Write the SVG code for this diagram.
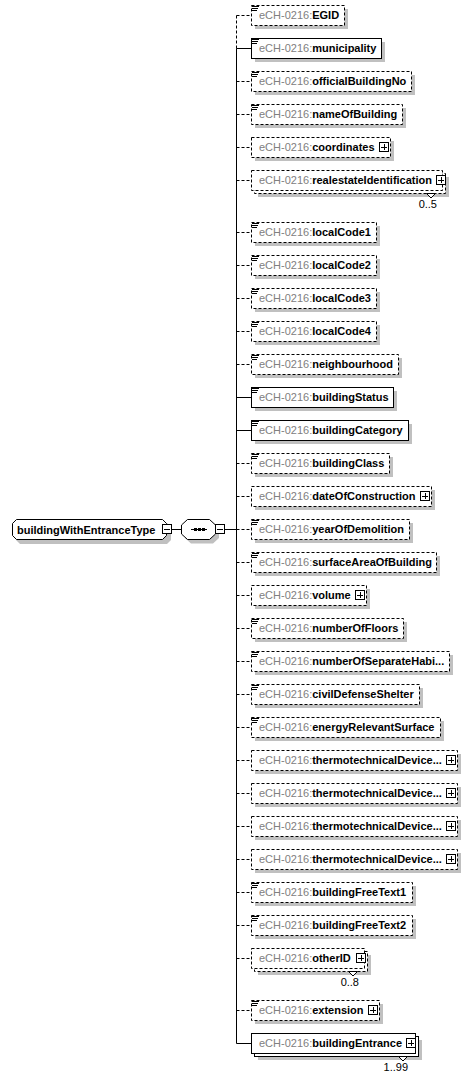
<svg xmlns="http://www.w3.org/2000/svg" xmlns:xlink="http://www.w3.org/1999/xlink" width="466" height="1078" viewBox="0 0 466 1078">
<style>
text{font-family:"Liberation Sans",Arial,sans-serif;font-size:11px}
.p{fill:#808080}
.n{fill:#000;font-weight:bold}
.c{fill:#000}
.sh{fill:#c0c0c0;stroke:none}
.b{fill:#fff;stroke:#000;stroke-width:1}
.o{stroke-dasharray:3,2}
.ln{stroke:#000;stroke-width:1;fill:none}
.dl{stroke:#000;stroke-width:1;fill:none;stroke-dasharray:3,2}
</style>
<defs>
<g id="plus"><rect x="0.5" y="0.5" width="9" height="9" fill="#fff" stroke="#000"/><path d="M2 5.5h6M5.5 2v6" stroke="#000"/></g>
<g id="minus"><rect x="0.5" y="0.5" width="9" height="9" fill="#fff" stroke="#000"/><path d="M2 5.5h6" stroke="#000"/></g>
<g id="doc"><path d="M1 1.5h7M1 3.5h6M1 5.5h5" stroke="#000" fill="none"/></g>
</defs>

<g id="connectors">
<path class="dl" d="M236.5 15.5V48.5"/>
<path class="ln" d="M236.5 48.5V1043.5"/>
<path class="ln" d="M171.5 529.5H181.5M224.5 529.5H236.5"/>
<path class="dl" d="M236.5 15.5H251"/>
<path class="ln" d="M236.5 48.5H251"/>
<path class="dl" d="M236.5 81.5H251M236.5 114.5H251M236.5 147.5H251M236.5 180.5H251M236.5 232.5H251M236.5 265.5H251M236.5 298.5H251M236.5 331.5H251M236.5 364.5H251"/>
<path class="ln" d="M236.5 397.5H251M236.5 430.5H251"/>
<path class="dl" d="M236.5 463.5H251M236.5 496.5H251M236.5 529.5H251M236.5 562.5H251M236.5 595.5H251M236.5 628.5H251M236.5 661.5H251M236.5 694.5H251M236.5 727.5H251M236.5 760.5H251M236.5 793.5H251M236.5 826.5H251M236.5 859.5H251M236.5 892.5H251M236.5 925.5H251M236.5 958.5H251M236.5 1010.5H251"/>
<path class="ln" d="M236.5 1043.5H251"/>
</g>

<g id="root">
<polygon class="sh" points="20,523 167,523 171,527 171,540 167,544 20,544 16,540 16,527"/>
<polygon class="b" points="16.5,519.5 162.5,519.5 166.5,523.5 166.5,535.5 162.5,539.5 16.5,539.5 12.5,535.5 12.5,523.5"/>
<text x="17" y="533.5" class="n">buildingWithEntranceType</text>
<use xlink:href="#minus" x="162" y="524"/>
</g>

<g id="sequence">
<polygon class="sh" points="191,523 213,523 219,528.5 219,538 213,543.5 191,543.5 185,538 185,528.5"/>
<polygon class="b" points="187.5,519.5 209.5,519.5 215.5,525 215.5,534 209.5,539.5 187.5,539.5 181.5,534 181.5,525"/>
<path class="ln" d="M191 529.5H207"/>
<rect x="194" y="528" width="3" height="3" fill="#000"/>
<rect x="198" y="528" width="3" height="3" fill="#000"/>
<rect x="202" y="528" width="3" height="3" fill="#000"/>
<use xlink:href="#minus" x="215" y="524"/>
</g>

<g id="EGID">
<rect class="sh" x="255" y="9" width="93" height="20"/>
<rect class="b o" x="251.5" y="5.5" width="93" height="20"/>
<use xlink:href="#doc" x="251" y="5"/>
<text x="259" y="19"><tspan class="p">eCH-0216:</tspan><tspan class="n">EGID</tspan></text>
</g>
<g id="municipality">
<rect class="sh" x="255" y="42" width="130" height="20"/>
<rect class="b" x="251.5" y="38.5" width="130" height="20"/>
<use xlink:href="#doc" x="251" y="38"/>
<text x="259" y="52"><tspan class="p">eCH-0216:</tspan><tspan class="n">municipality</tspan></text>
</g>
<g id="officialBuildingNo">
<rect class="sh" x="255" y="75" width="160" height="20"/>
<rect class="b o" x="251.5" y="71.5" width="160" height="20"/>
<use xlink:href="#doc" x="251" y="71"/>
<text x="259" y="85"><tspan class="p">eCH-0216:</tspan><tspan class="n">officialBuildingNo</tspan></text>
</g>
<g id="nameOfBuilding">
<rect class="sh" x="255" y="108" width="151" height="20"/>
<rect class="b o" x="251.5" y="104.5" width="151" height="20"/>
<use xlink:href="#doc" x="251" y="104"/>
<text x="259" y="118"><tspan class="p">eCH-0216:</tspan><tspan class="n">nameOfBuilding</tspan></text>
</g>
<g id="coordinates">
<rect class="sh" x="255" y="141" width="139" height="20"/>
<rect class="b o" x="251.5" y="137.5" width="139" height="20"/>
<text x="259" y="151"><tspan class="p">eCH-0216:</tspan><tspan class="n">coordinates</tspan></text>
<use xlink:href="#plus" x="379" y="142"/>
</g>
<g id="realestateIdentification">
<rect class="sh" x="258" y="177" width="191" height="20"/>
<rect class="b o" x="254.5" y="173.5" width="191" height="20"/>
<rect class="b o" x="251.5" y="170.5" width="191" height="20"/>
<text x="259" y="184"><tspan class="p">eCH-0216:</tspan><tspan class="n">realestateIdentification</tspan></text>
<use xlink:href="#plus" x="436" y="175"/>
<polygon class="b" points="426.5,193.5 431,198 435.5,193.5"/>
<text x="437" y="208" class="c" text-anchor="end">0..5</text>
</g>
<g id="localCode1">
<rect class="sh" x="255" y="226" width="125" height="20"/>
<rect class="b o" x="251.5" y="222.5" width="125" height="20"/>
<use xlink:href="#doc" x="251" y="222"/>
<text x="259" y="236"><tspan class="p">eCH-0216:</tspan><tspan class="n">localCode1</tspan></text>
</g>
<g id="localCode2">
<rect class="sh" x="255" y="259" width="125" height="20"/>
<rect class="b o" x="251.5" y="255.5" width="125" height="20"/>
<use xlink:href="#doc" x="251" y="255"/>
<text x="259" y="269"><tspan class="p">eCH-0216:</tspan><tspan class="n">localCode2</tspan></text>
</g>
<g id="localCode3">
<rect class="sh" x="255" y="292" width="125" height="20"/>
<rect class="b o" x="251.5" y="288.5" width="125" height="20"/>
<use xlink:href="#doc" x="251" y="288"/>
<text x="259" y="302"><tspan class="p">eCH-0216:</tspan><tspan class="n">localCode3</tspan></text>
</g>
<g id="localCode4">
<rect class="sh" x="255" y="325" width="125" height="20"/>
<rect class="b o" x="251.5" y="321.5" width="125" height="20"/>
<use xlink:href="#doc" x="251" y="321"/>
<text x="259" y="335"><tspan class="p">eCH-0216:</tspan><tspan class="n">localCode4</tspan></text>
</g>
<g id="neighbourhood">
<rect class="sh" x="255" y="358" width="147" height="20"/>
<rect class="b o" x="251.5" y="354.5" width="147" height="20"/>
<use xlink:href="#doc" x="251" y="354"/>
<text x="259" y="368"><tspan class="p">eCH-0216:</tspan><tspan class="n">neighbourhood</tspan></text>
</g>
<g id="buildingStatus">
<rect class="sh" x="255" y="391" width="142" height="20"/>
<rect class="b" x="251.5" y="387.5" width="142" height="20"/>
<use xlink:href="#doc" x="251" y="387"/>
<text x="259" y="401"><tspan class="p">eCH-0216:</tspan><tspan class="n">buildingStatus</tspan></text>
</g>
<g id="buildingCategory">
<rect class="sh" x="255" y="424" width="157" height="20"/>
<rect class="b" x="251.5" y="420.5" width="157" height="20"/>
<use xlink:href="#doc" x="251" y="420"/>
<text x="259" y="434"><tspan class="p">eCH-0216:</tspan><tspan class="n">buildingCategory</tspan></text>
</g>
<g id="buildingClass">
<rect class="sh" x="255" y="457" width="138" height="20"/>
<rect class="b o" x="251.5" y="453.5" width="138" height="20"/>
<use xlink:href="#doc" x="251" y="453"/>
<text x="259" y="467"><tspan class="p">eCH-0216:</tspan><tspan class="n">buildingClass</tspan></text>
</g>
<g id="dateOfConstruction">
<rect class="sh" x="255" y="490" width="180" height="20"/>
<rect class="b o" x="251.5" y="486.5" width="180" height="20"/>
<text x="259" y="500"><tspan class="p">eCH-0216:</tspan><tspan class="n">dateOfConstruction</tspan></text>
<use xlink:href="#plus" x="420" y="491"/>
</g>
<g id="yearOfDemolition">
<rect class="sh" x="255" y="523" width="158" height="20"/>
<rect class="b o" x="251.5" y="519.5" width="158" height="20"/>
<use xlink:href="#doc" x="251" y="519"/>
<text x="259" y="533"><tspan class="p">eCH-0216:</tspan><tspan class="n">yearOfDemolition</tspan></text>
</g>
<g id="surfaceAreaOfBuilding">
<rect class="sh" x="255" y="556" width="185" height="20"/>
<rect class="b o" x="251.5" y="552.5" width="185" height="20"/>
<use xlink:href="#doc" x="251" y="552"/>
<text x="259" y="566"><tspan class="p">eCH-0216:</tspan><tspan class="n">surfaceAreaOfBuilding</tspan></text>
</g>
<g id="volume">
<rect class="sh" x="255" y="589" width="115" height="20"/>
<rect class="b o" x="251.5" y="585.5" width="115" height="20"/>
<text x="259" y="599"><tspan class="p">eCH-0216:</tspan><tspan class="n">volume</tspan></text>
<use xlink:href="#plus" x="355" y="590"/>
</g>
<g id="numberOfFloors">
<rect class="sh" x="255" y="622" width="152" height="20"/>
<rect class="b o" x="251.5" y="618.5" width="152" height="20"/>
<use xlink:href="#doc" x="251" y="618"/>
<text x="259" y="632"><tspan class="p">eCH-0216:</tspan><tspan class="n">numberOfFloors</tspan></text>
</g>
<g id="numberOfSeparateHabitation">
<rect class="sh" x="255" y="655" width="198" height="20"/>
<rect class="b o" x="251.5" y="651.5" width="198" height="20"/>
<use xlink:href="#doc" x="251" y="651"/>
<text x="259" y="665"><tspan class="p">eCH-0216:</tspan><tspan class="n">numberOfSeparateHabi...</tspan></text>
</g>
<g id="civilDefenseShelter">
<rect class="sh" x="255" y="688" width="168" height="20"/>
<rect class="b o" x="251.5" y="684.5" width="168" height="20"/>
<use xlink:href="#doc" x="251" y="684"/>
<text x="259" y="698"><tspan class="p">eCH-0216:</tspan><tspan class="n">civilDefenseShelter</tspan></text>
</g>
<g id="energyRelevantSurface">
<rect class="sh" x="255" y="721" width="189" height="20"/>
<rect class="b o" x="251.5" y="717.5" width="189" height="20"/>
<use xlink:href="#doc" x="251" y="717"/>
<text x="259" y="731"><tspan class="p">eCH-0216:</tspan><tspan class="n">energyRelevantSurface</tspan></text>
</g>
<g id="thermotechnicalDevice1">
<rect class="sh" x="255" y="754" width="206" height="20"/>
<rect class="b o" x="251.5" y="750.5" width="206" height="20"/>
<text x="259" y="764"><tspan class="p">eCH-0216:</tspan><tspan class="n">thermotechnicalDevice...</tspan></text>
<use xlink:href="#plus" x="446" y="755"/>
</g>
<g id="thermotechnicalDevice2">
<rect class="sh" x="255" y="787" width="206" height="20"/>
<rect class="b o" x="251.5" y="783.5" width="206" height="20"/>
<text x="259" y="797"><tspan class="p">eCH-0216:</tspan><tspan class="n">thermotechnicalDevice...</tspan></text>
<use xlink:href="#plus" x="446" y="788"/>
</g>
<g id="thermotechnicalDevice3">
<rect class="sh" x="255" y="820" width="206" height="20"/>
<rect class="b o" x="251.5" y="816.5" width="206" height="20"/>
<text x="259" y="830"><tspan class="p">eCH-0216:</tspan><tspan class="n">thermotechnicalDevice...</tspan></text>
<use xlink:href="#plus" x="446" y="821"/>
</g>
<g id="thermotechnicalDevice4">
<rect class="sh" x="255" y="853" width="206" height="20"/>
<rect class="b o" x="251.5" y="849.5" width="206" height="20"/>
<text x="259" y="863"><tspan class="p">eCH-0216:</tspan><tspan class="n">thermotechnicalDevice...</tspan></text>
<use xlink:href="#plus" x="446" y="854"/>
</g>
<g id="buildingFreeText1">
<rect class="sh" x="255" y="886" width="161" height="20"/>
<rect class="b o" x="251.5" y="882.5" width="161" height="20"/>
<use xlink:href="#doc" x="251" y="882"/>
<text x="259" y="896"><tspan class="p">eCH-0216:</tspan><tspan class="n">buildingFreeText1</tspan></text>
</g>
<g id="buildingFreeText2">
<rect class="sh" x="255" y="919" width="161" height="20"/>
<rect class="b o" x="251.5" y="915.5" width="161" height="20"/>
<use xlink:href="#doc" x="251" y="915"/>
<text x="259" y="929"><tspan class="p">eCH-0216:</tspan><tspan class="n">buildingFreeText2</tspan></text>
</g>
<g id="otherID">
<rect class="sh" x="258" y="955" width="113" height="20"/>
<rect class="b o" x="254.5" y="951.5" width="113" height="20"/>
<rect class="b o" x="251.5" y="948.5" width="113" height="20"/>
<text x="259" y="962"><tspan class="p">eCH-0216:</tspan><tspan class="n">otherID</tspan></text>
<use xlink:href="#plus" x="356" y="953"/>
<polygon class="b" points="348.5,971.5 353,976 357.5,971.5"/>
<text x="359" y="986" class="c" text-anchor="end">0..8</text>
</g>
<g id="extension">
<rect class="sh" x="255" y="1004" width="128" height="20"/>
<rect class="b o" x="251.5" y="1000.5" width="128" height="20"/>
<use xlink:href="#doc" x="251" y="1000"/>
<text x="259" y="1014"><tspan class="p">eCH-0216:</tspan><tspan class="n">extension</tspan></text>
<use xlink:href="#plus" x="368" y="1005"/>
</g>
<g id="buildingEntrance">
<rect class="sh" x="258" y="1040" width="164" height="20"/>
<rect class="b" x="254.5" y="1036.5" width="164" height="20"/>
<rect class="b" x="251.5" y="1033.5" width="164" height="20"/>
<text x="259" y="1047"><tspan class="p">eCH-0216:</tspan><tspan class="n">buildingEntrance</tspan></text>
<use xlink:href="#plus" x="406" y="1038"/>
<polygon class="b" points="398.5,1056.5 403,1061 407.5,1056.5"/>
<text x="408" y="1071" class="c" text-anchor="end">1..99</text>
</g>
</svg>
